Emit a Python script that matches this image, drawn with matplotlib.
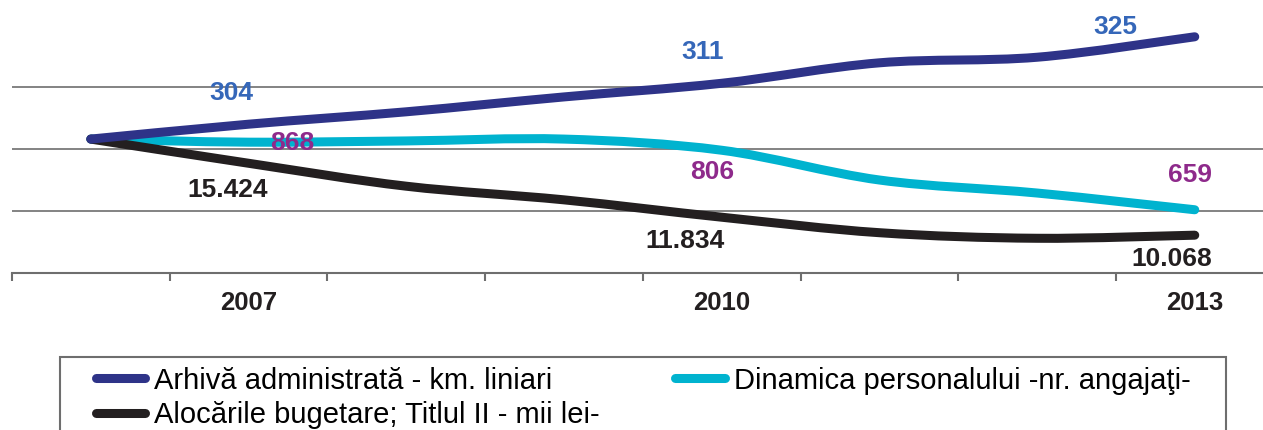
import matplotlib
matplotlib.use('Agg')
import matplotlib.pyplot as plt
import numpy as np
from matplotlib.path import Path
from matplotlib.patches import PathPatch, Rectangle
from matplotlib.lines import Line2D

plt.rcParams['font.family'] = ['Liberation Sans', 'DejaVu Sans']

# categories (only every third year is labelled on the axis)
years = ['2006', '2007', '2008', '2009', '2010', '2011', '2012', '2013']
shown_years = ['2007', '2010', '2013']

# index values (common start point)
arhiva = [101.6, 104.0, 106.0, 108.4, 110.6, 113.9, 114.8, 118.1]
personal = [101.6, 101.1, 101.3, 101.6, 99.8, 95.0, 92.9, 90.2]
buget = [101.6, 97.7, 94.0, 91.8, 89.0, 86.5, 85.6, 86.1]

# data labels written on the chart
arhiva_labels = ['304', '311', '325']
personal_labels = ['868', '806', '659']
buget_labels = ['15.424', '11.834', '10.068']

names = ['Arhivă administrată - km. liniari',
         'Alocările bugetare; Titlul II - mii lei-',
         'Dinamica personalului -nr. angajaţi-']

c_arhiva = '#2E3388'
c_personal = '#00B3CF'
c_buget = '#231F20'
grey = '#6E6E6E'


def smooth_path(xs, ys):
    # excel-like smoothed line: catmull-rom segments as cubic beziers
    pts = np.column_stack([xs, ys]).astype(float)
    ext = np.vstack([pts[0], pts, pts[-1]])
    verts = [tuple(pts[0])]
    codes = [Path.MOVETO]
    for i in range(len(pts) - 1):
        p0, p1, p2, p3 = ext[i], ext[i + 1], ext[i + 2], ext[i + 3]
        verts += [tuple(p1 + (p2 - p0) / 6), tuple(p2 - (p3 - p1) / 6), tuple(p2)]
        codes += [Path.CURVE4] * 3
    return Path(verts, codes)


fig = plt.figure(figsize=(12.63, 4.30), dpi=100)
ax = fig.add_axes([12 / 1263, 157 / 430, 1251 / 1263, 273 / 430])

x = np.arange(len(years))
lw = 6.5
for vals, col in [(personal, c_personal), (buget, c_buget), (arhiva, c_arhiva)]:
    ax.add_patch(PathPatch(smooth_path(x, vals), fill=False, ec=col, lw=lw,
                           capstyle='round', joinstyle='round', zorder=3))

ax.set_xlim(-0.5, -0.5 + 1251 / 157.7)
ax.set_ylim(80, 80 + 273 / 6.2)

# gridlines
ax.set_yticks([90, 100, 110])
ax.yaxis.grid(True, color=grey, lw=1.2)
ax.tick_params(axis='y', length=0, labelleft=False)
ax.set_axisbelow(True)

for s in ['left', 'right', 'top']:
    ax.spines[s].set_visible(False)
ax.spines['bottom'].set_color(grey)
ax.spines['bottom'].set_linewidth(1.5)

ax.set_xticks(np.arange(-0.5, 7.0, 1.0))
ax.set_xticklabels([])
ax.tick_params(axis='x', which='major', length=6, width=1.5, color=grey, direction='out')
ax.set_xticks([years.index(y) for y in shown_years], minor=True)
ax.set_xticklabels(shown_years, minor=True, fontsize=18.5, fontweight='bold', color='#231F20')
ax.tick_params(axis='x', which='minor', length=0, pad=13)

# data labels (offsets in pixels: dx, dy downwards)
idx = [years.index(y) for y in shown_years]
label_sets = [
    (arhiva, arhiva_labels, '#3567B9', [(-17, -31), (-19, -31), (-79, -10)]),
    (personal, personal_labels, '#8E2A8B', [(44, 1), (-9, 22), (-5, -35)]),
    (buget, buget_labels, '#231F20', [(-21, 27), (-37, 24), (-23, 24)]),
]
for vals, labs, col, offs in label_sets:
    for i, lab, (dx, dy) in zip(idx, labs, offs):
        ax.annotate(lab, xy=(i, vals[i]), xytext=(dx, -dy), textcoords='offset pixels',
                    ha='center', va='center', fontsize=19, fontweight='bold',
                    color=col, zorder=5)

# legend
handles = [Line2D([], [], color=c, lw=lw, solid_capstyle='round')
           for c in [c_arhiva, c_buget, c_personal]]
fig.legend(handles, names, ncol=2, loc='upper left',
           bbox_to_anchor=(81 / 1263, 1 - 352 / 430), frameon=False,
           fontsize=21, handlelength=1.7, handletextpad=0.3,
           columnspacing=2.6, borderpad=0, labelspacing=0.22)
fig.add_artist(Rectangle((60 / 1263, -0.1), (1226 - 60) / 1263, 0.1 + (430 - 357) / 430,
                         transform=fig.transFigure, fill=False, ec=grey, lw=1.5))

fig.savefig('out.png', dpi=100)
